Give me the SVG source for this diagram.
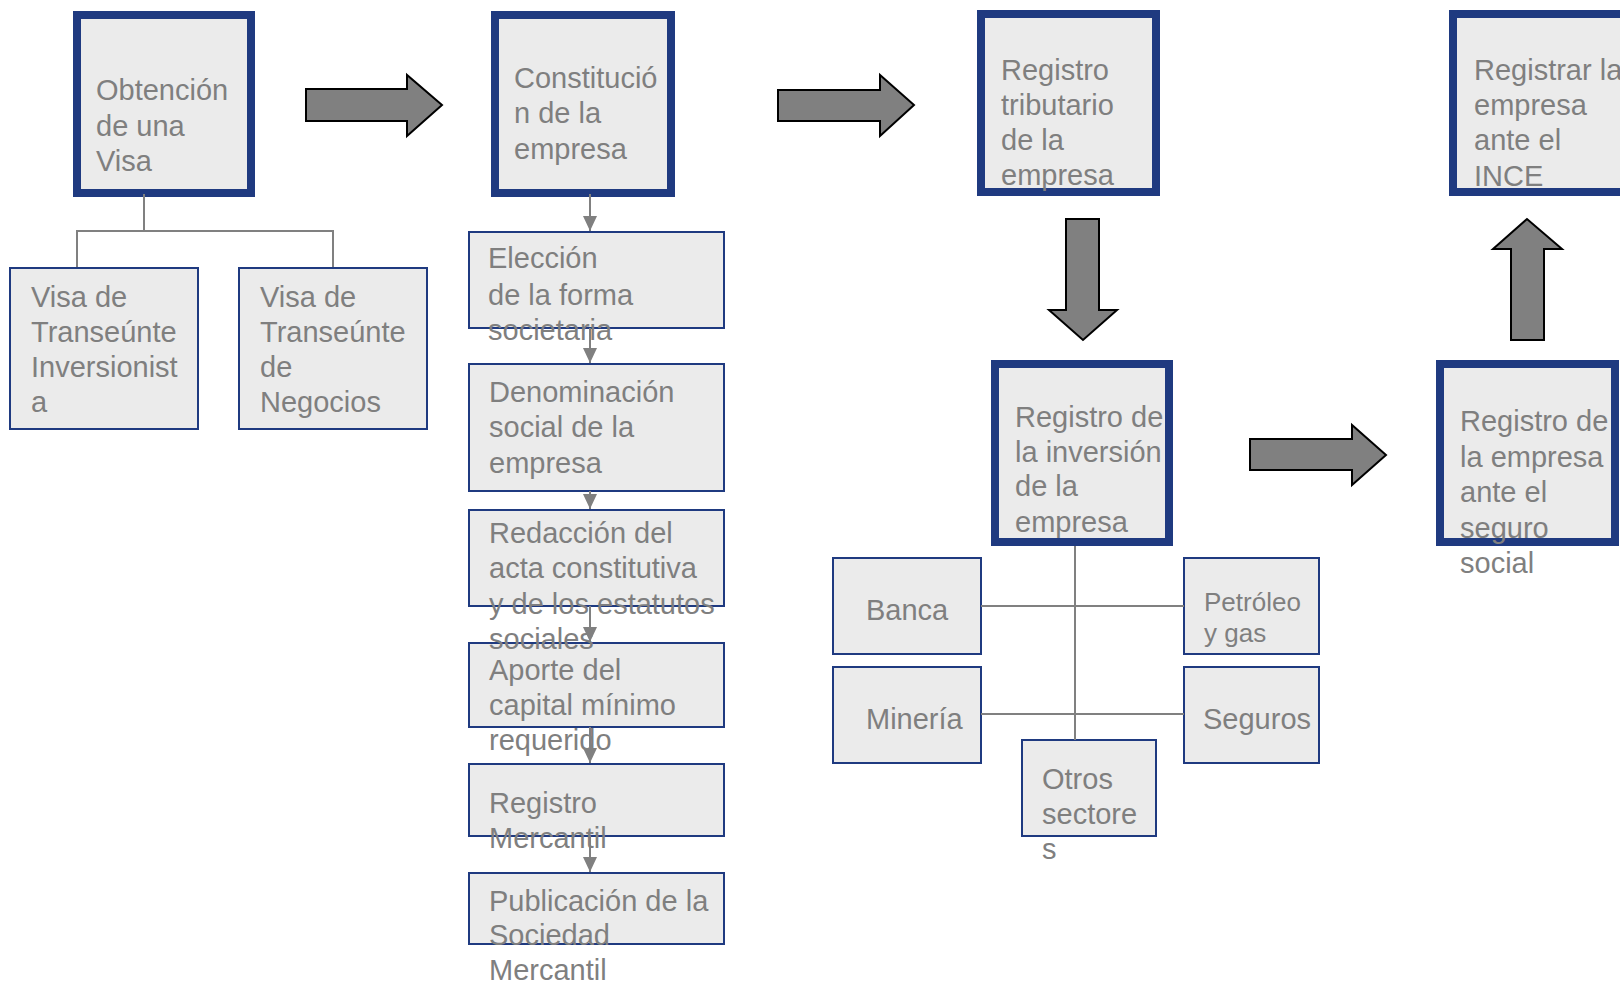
<svg xmlns="http://www.w3.org/2000/svg" width="1620" height="983" viewBox="0 0 1620 983">
<style>
.bg{fill:#ffffff}
.thick{fill:#ebebeb;stroke:#1f3a80;stroke-width:8}
.thin{fill:#ebebeb;stroke:#1f3a80;stroke-width:2}
.t{font-family:"Liberation Sans",Arial,sans-serif;font-size:29px;fill:#7f7f7f}
.ts{font-family:"Liberation Sans",Arial,sans-serif;font-size:26px;fill:#7f7f7f}
.con{fill:none;stroke:#808080;stroke-width:2}
.big{fill:#808080;stroke:#000000;stroke-width:2;stroke-linejoin:miter}
</style>
<defs>
<marker id="ah" markerWidth="16" markerHeight="14" refX="15" refY="7" orient="auto" markerUnits="userSpaceOnUse">
<path d="M0,0 L15,7 L0,14 Z" fill="#808080"/>
</marker>
</defs>
<rect class="bg" x="0" y="0" width="1620" height="983"/>

<g id="n-obtencion"><rect class="thick" x="77" y="15" width="174" height="178"/>
<text class="t" x="96" y="100">Obtención</text><text class="t" x="96" y="136">de una</text><text class="t" x="96" y="171">Visa</text></g>

<g id="n-visa-inv"><rect class="thin" x="10" y="268" width="188" height="161"/>
<text class="t" x="31" y="307">Visa de</text><text class="t" x="31" y="342">Transeúnte</text><text class="t" x="31" y="377">Inversionist</text><text class="t" x="31" y="412">a</text></g>

<g id="n-visa-neg"><rect class="thin" x="239" y="268" width="188" height="161"/>
<text class="t" x="260" y="307">Visa de</text><text class="t" x="260" y="342">Transeúnte</text><text class="t" x="260" y="377">de</text><text class="t" x="260" y="412">Negocios</text></g>

<g id="n-constitucion"><rect class="thick" x="495" y="15" width="176" height="178"/>
<text class="t" x="514" y="88">Constitució</text><text class="t" x="514" y="123">n de la</text><text class="t" x="514" y="159">empresa</text></g>

<g id="n-publicacion"><rect class="thin" x="469" y="873" width="255" height="71"/>
<text class="t" x="489" y="911">Publicación de la</text><text class="t" x="489" y="945">Sociedad</text><text class="t" x="489" y="980">Mercantil</text></g>

<g id="n-registro-mercantil"><rect class="thin" x="469" y="764" width="255" height="72"/>
<text class="t" x="489" y="813">Registro</text><text class="t" x="489" y="848">Mercantil</text></g>

<g id="n-aporte"><rect class="thin" x="469" y="643" width="255" height="84"/>
<text class="t" x="489" y="680">Aporte del</text><text class="t" x="489" y="715">capital mínimo</text><text class="t" x="489" y="750">requerido</text></g>

<g id="n-redaccion"><rect class="thin" x="469" y="510" width="255" height="96"/>
<text class="t" x="489" y="543">Redacción del</text><text class="t" x="489" y="578">acta constitutiva</text><text class="t" x="489" y="614">y de los estatutos</text><text class="t" x="489" y="649">sociales</text></g>

<g id="n-denominacion"><rect class="thin" x="469" y="364" width="255" height="127"/>
<text class="t" x="489" y="402">Denominación</text><text class="t" x="489" y="437">social de la</text><text class="t" x="489" y="473">empresa</text></g>

<g id="n-eleccion"><rect class="thin" x="469" y="232" width="255" height="96"/>
<text class="t" x="488" y="268">Elección</text><text class="t" x="488" y="305">de la forma</text><text class="t" x="488" y="340">societaria</text></g>

<g id="n-tributario"><rect class="thick" x="981" y="14" width="175" height="178"/>
<text class="t" x="1001" y="80">Registro</text><text class="t" x="1001" y="115">tributario</text><text class="t" x="1001" y="150">de la</text><text class="t" x="1001" y="185">empresa</text></g>

<g id="n-inversion"><rect class="thick" x="995" y="364" width="174" height="178"/>
<text class="t" x="1015" y="427">Registro de</text><text class="t" x="1015" y="462">la inversión</text><text class="t" x="1015" y="496">de la</text><text class="t" x="1015" y="532">empresa</text></g>

<g id="n-banca"><rect class="thin" x="833" y="558" width="148" height="96"/>
<text class="t" x="866" y="620">Banca</text></g>

<g id="n-mineria"><rect class="thin" x="833" y="667" width="148" height="96"/>
<text class="t" x="866" y="729">Minería</text></g>

<g id="n-petroleo"><rect class="thin" x="1184" y="558" width="135" height="96"/>
<text class="ts" x="1204" y="611">Petróleo</text><text class="ts" x="1204" y="642">y gas</text></g>

<g id="n-seguros"><rect class="thin" x="1184" y="667" width="135" height="96"/>
<text class="t" x="1203" y="729">Seguros</text></g>

<g id="n-otros"><rect class="thin" x="1022" y="740" width="134" height="96"/>
<text class="t" x="1042" y="789">Otros</text><text class="t" x="1042" y="824">sectore</text><text class="t" x="1042" y="859">s</text></g>

<g id="n-seguro-social"><rect class="thick" x="1440" y="364" width="175" height="178"/>
<text class="t" x="1460" y="431">Registro de</text><text class="t" x="1460" y="467">la empresa</text><text class="t" x="1460" y="502">ante el</text><text class="t" x="1460" y="538">seguro</text><text class="t" x="1460" y="573">social</text></g>

<g id="n-ince"><rect class="thick" x="1453" y="14" width="180" height="178"/>
<text class="t" x="1474" y="80">Registrar la</text><text class="t" x="1474" y="115">empresa</text><text class="t" x="1474" y="150">ante el</text><text class="t" x="1474" y="186">INCE</text></g>

<g id="connectors">
<path class="con" d="M144,194 V231 M77,267 V231 H333 V267"/>
<line class="con" x1="590" y1="194" x2="590" y2="231" marker-end="url(#ah)"/>
<line class="con" x1="590" y1="328" x2="590" y2="363" marker-end="url(#ah)"/>
<line class="con" x1="590" y1="491" x2="590" y2="509" marker-end="url(#ah)"/>
<line class="con" x1="590" y1="606" x2="590" y2="642" marker-end="url(#ah)"/>
<line class="con" x1="590" y1="727" x2="590" y2="763" marker-end="url(#ah)"/>
<line class="con" x1="590" y1="836" x2="590" y2="872" marker-end="url(#ah)"/>
<path class="con" d="M1075,546 V740 M981,606 H1184 M981,714 H1184"/>
<path class="big" d="M306,89 H407 V75 L442,105 L407,136 V121 H306 Z"/>
<path class="big" d="M778,90 H880 V75 L914,105 L880,136 V121 H778 Z"/>
<path class="big" d="M1066,219 H1099 V310 H1117 L1083,340 L1049,310 H1066 Z"/>
<path class="big" d="M1250,439 H1352 V425 L1386,455 L1352,485 V470 H1250 Z"/>
<path class="big" d="M1511,340 V249 H1493 L1527,219 L1562,249 H1544 V340 Z"/>
</g>
</svg>
